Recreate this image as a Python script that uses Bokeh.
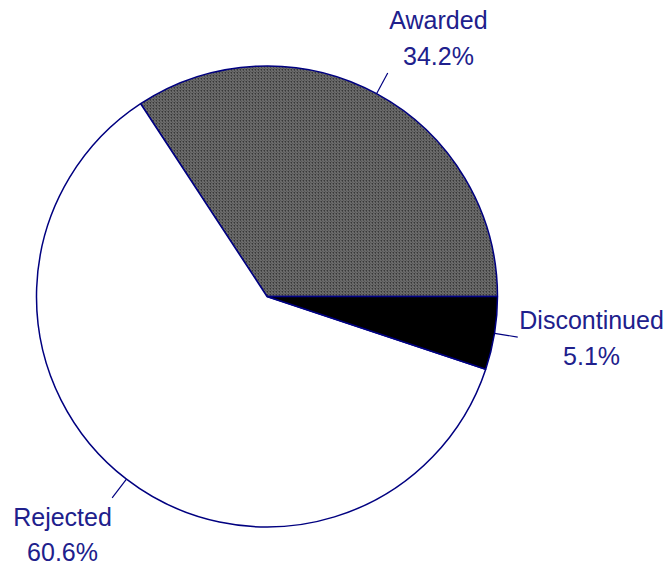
import math
from bokeh.plotting import figure
from bokeh.models import Range1d, ColumnDataSource
from bokeh.core.properties import value
from bokeh.embed import file_html
from bokeh.resources import INLINE

# ---- data ----
categories = ["Awarded", "Rejected", "Discontinued"]
values = [34.2, 60.6, 5.1]
pct_labels = ["34.2%", "60.6%", "5.1%"]

# ---- style / layout ----
fills = ["#383838", "#ffffff", "#000000"]
hatches = ["/", " ", " "]
outline = "#000080"
text_color = "#20208c"
radius = 230.5
lead_r0, lead_r1 = 230.5, 254
label_dx = [50.7, -49.6, 73.8]          # pixel offset of label centre from leader end
label_dy1 = [52.6, -18.7, 16.6]         # first line baseline offset (up = +)
line_gap = 35.5

total = sum(values)
starts, ends, mids = [], [], []
acc = 0.0
for v in values:
    a0 = acc / total * 2 * math.pi
    acc += v
    a1 = acc / total * 2 * math.pi
    starts.append(a0)
    ends.append(a1)
    mids.append((a0 + a1) / 2)

src = ColumnDataSource(dict(
    x=[0] * 3, y=[0] * 3, start=starts, end=ends,
    fill=fills, hatch=hatches, cat=categories,
))

p = figure(width=669, height=567, output_backend="svg", toolbar_location=None,
           x_range=Range1d(-266.5, 402.5), y_range=Range1d(-271, 296),
           min_border=0)
p.axis.visible = False
p.grid.visible = False
p.outline_line_color = None
p.background_fill_color = "white"

p.wedge(x="x", y="y", radius=radius, start_angle="start", end_angle="end",
        fill_color="fill", line_color=outline, line_width=1.5,
        hatch_pattern="hatch", hatch_color="#7c7c7c", hatch_scale=3,
        hatch_weight=1, source=src)

# leader lines
xs, ys = [], []
lx, ly1, ly2 = [], [], []
for i, m in enumerate(mids):
    x0, y0 = lead_r0 * math.cos(m), lead_r0 * math.sin(m)
    x1, y1 = lead_r1 * math.cos(m), lead_r1 * math.sin(m)
    xs.append([x0, x1])
    ys.append([y0, y1])
    lx.append(x1 + label_dx[i])
    ly1.append(y1 + label_dy1[i])
    ly2.append(y1 + label_dy1[i] - line_gap)

p.multi_line(xs=xs, ys=ys, line_color=outline, line_width=1.2)

p.text(x=lx, y=ly1, text=categories, text_align="center",
       text_baseline="alphabetic", text_font=value("Liberation Sans"),
       text_font_size="25px", text_color=text_color)
p.text(x=lx, y=ly2, text=pct_labels, text_align="center",
       text_baseline="alphabetic", text_font=value("Liberation Sans"),
       text_font_size="25px", text_color=text_color)

open("out.html", "w").write(file_html(p, INLINE))
